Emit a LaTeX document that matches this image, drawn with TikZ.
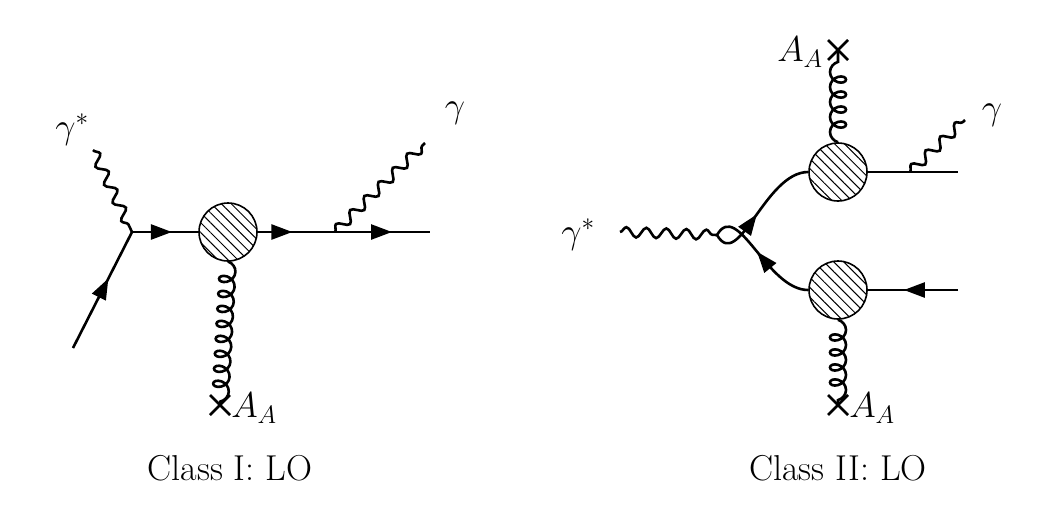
\documentclass[tikz,border=0pt]{standalone}
\usepackage{fix-cm}
\usetikzlibrary{decorations.pathmorphing,decorations.markings,patterns.meta,arrows.meta}
\begin{document}
\begin{tikzpicture}[x=1pt,y=-1pt,line width=2.6pt,
  every node/.style={font=\fontsize{36}{42}\selectfont},
  fermion/.style={postaction={decorate,decoration={markings,mark=at position #1 with {\arrow{Triangle[length=21pt,width=15pt]}}}}},
  fermion/.default=0.55,
  photon/.style={decorate,decoration={snake,segment length=20pt,amplitude=5pt}},
  gluon/.style={decorate,decoration={coil,segment length=15pt,amplitude=8pt,aspect=0.8}},
  blob/.style={circle,draw,line width=1.6pt,minimum size=58pt,inner sep=0pt,pattern={Lines[angle=-45,distance=7pt,line width=1pt]}},
  ]
\useasboundingbox (0,0) rectangle (1056,517);
% ---------- Class I ----------
\coordinate (v1) at (132,232);
\coordinate (qin) at (73,348);
\coordinate (gs) at (93,150);
\node[blob] (b1) at (228,232) {};
\coordinate (e1) at (430,232);
\coordinate (pe) at (335,232);
\coordinate (pf) at (425,143);
\coordinate (x1) at (220,405);
\draw[fermion=0.6] (qin) -- (v1);
\draw[photon] (gs) -- (v1);
\draw[fermion=0.6] (v1) -- (b1.west);
\draw[fermion=0.45] (b1.east) -- (pe);
\draw[fermion=0.6] (pe) -- (e1);
\draw[photon] (pe) -- (pf);
\draw[gluon] (b1.south) -- (x1);
\draw (x1) +(-10,-10) -- +(10,10) (x1) +(-10,10) -- +(10,-10);
\node at (72,130) {$\gamma^*$};
\node at (455,113) {$\gamma$};
\node[anchor=west,inner sep=2pt] at (228,408) {$A_A$};
\node at (230,468) {Class I: LO};
% ---------- Class II ----------
\coordinate (v2) at (717,235);
\coordinate (gs2) at (620,232);
\node[blob] (bu) at (838,172) {};
\node[blob] (bd) at (838,290) {};
\coordinate (eu) at (958,172);
\coordinate (ed) at (958,290);
\coordinate (pu) at (910,172);
\coordinate (pf2) at (965,120);
\coordinate (xu) at (838,50);
\coordinate (xd) at (838,405);
\draw[photon] (gs2) -- (v2);
\draw[fermion=0.45] (v2) to[out=-60,in=180] (bu.west);
\draw[fermion=0.55] (bd.west) to[out=180,in=60] (v2);
\draw (bu.east) -- (eu);
\draw[photon] (pu) -- (pf2);
\draw[fermion=0.6] (ed) -- (bd.east);
\draw[gluon] (bu.north) -- (xu);
\draw[gluon] (bd.south) -- (xd);
\draw (xu) +(-10,-10) -- +(10,10) (xu) +(-10,10) -- +(10,-10);
\draw (xd) +(-10,-10) -- +(10,10) (xd) +(-10,10) -- +(10,-10);
\node at (578,235) {$\gamma^*$};
\node at (992,115) {$\gamma$};
\node[anchor=east,inner sep=2pt] at (826,52) {$A_A$};
\node[anchor=west,inner sep=2pt] at (846,408) {$A_A$};
\node at (838,468) {Class II: LO};
\end{tikzpicture}
\end{document}
